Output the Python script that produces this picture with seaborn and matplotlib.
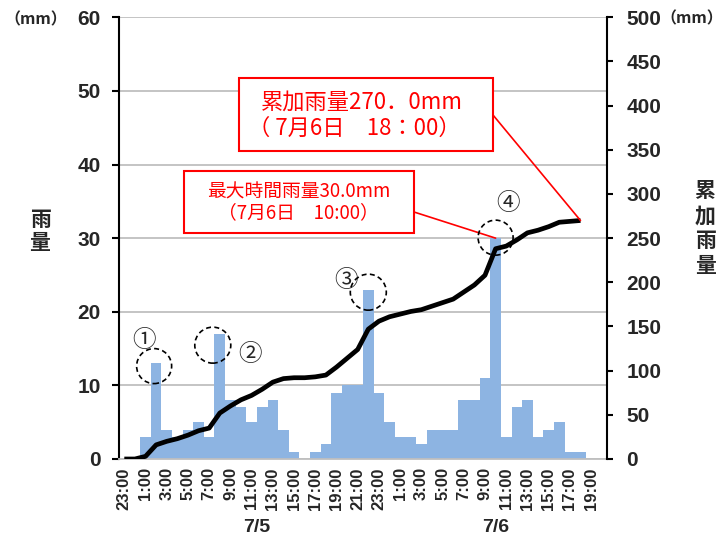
import numpy as np
import matplotlib
matplotlib.use("Agg")
import matplotlib.pyplot as plt
import matplotlib.transforms as mtransforms
from matplotlib.patches import Circle, Rectangle
import seaborn as sns

# ---------------- data ----------------
hours = ['23:00', '0:00', '1:00', '2:00', '3:00', '4:00', '5:00', '6:00', '7:00', '8:00',
         '9:00', '10:00', '11:00', '12:00', '13:00', '14:00', '15:00', '16:00', '17:00',
         '18:00', '19:00', '20:00', '21:00', '22:00', '23:00', '0:00', '1:00', '2:00',
         '3:00', '4:00', '5:00', '6:00', '7:00', '8:00', '9:00', '10:00', '11:00', '12:00',
         '13:00', '14:00', '15:00', '16:00', '17:00', '18:00', '19:00']
rain = [0, 0, 3, 13, 4, 3, 4, 5, 3, 17, 8, 7, 5, 7, 8, 4, 1, 0, 1, 2, 9, 10, 10, 23,
        9, 5, 3, 3, 2, 4, 4, 4, 8, 8, 11, 30, 3, 7, 8, 3, 4, 5, 1, 1, 0]
cumulative = [0, 0, 3, 16, 20, 23, 27, 32, 35, 52, 60, 67, 72, 79, 87, 91, 92, 92, 93, 95,
              104, 114, 124, 147, 156, 161, 164, 167, 169, 173, 177, 181, 189, 197, 208,
              238, 241, 248, 256, 259, 263, 268, 269, 270]
dates = ['7/5', '7/6']
date_centers = [12.5, 35.0]
peaks = [('①', 3), ('②', 9), ('③', 23), ('④', 35)]

sns.set_style('white')
CJK = ['Noto Sans CJK JP', 'DejaVu Sans']
LAT = ['Liberation Sans', 'DejaVu Sans']

W, H = 722, 542
fig = plt.figure(figsize=(W / 100, H / 100), dpi=100)
ax = fig.add_axes([119 / W, 1 - 459 / H, (607 - 119) / W, (459 - 17.3) / H])

def fp(x, y):
    return (x / W, 1 - y / H)

bar_color = '#8DB4E2'
sns.barplot(x=np.arange(len(rain)), y=rain, color=bar_color, saturation=1,
            width=1.0, linewidth=0, ax=ax, zorder=2)
ax.set_xlim(-0.5, 45.5)
ax.set_ylim(0, 60)
ax.set_yticks(np.arange(0, 61, 10))
ax.yaxis.grid(True, color='#BFBFBF', lw=1.3, zorder=0)
ax.set_axisbelow(True)
ax.set_xlabel('')
ax.set_ylabel('')

ax2 = ax.twinx()
sns.lineplot(x=np.arange(len(cumulative)), y=cumulative, color='black', lw=3.4,
             ax=ax2, solid_capstyle='butt')
ax2.set_ylim(0, 500)
ax2.set_yticks(np.arange(0, 501, 50))
ax2.set_ylabel('')
ax2.set_xlim(-0.5, 45.5)

for s in ['top', 'right']:
    ax.spines[s].set_visible(False)
for s in ['top', 'left', 'bottom']:
    ax2.spines[s].set_visible(False)
ax.spines['left'].set_color('black')
ax.spines['left'].set_linewidth(1.5)
ax.spines['bottom'].set_color('#BFBFBF')
ax.spines['bottom'].set_linewidth(1.3)
ax2.spines['right'].set_color('black')
ax2.spines['right'].set_linewidth(1.5)

ax.set_xticks(np.arange(0, len(hours), 2))
ax.set_xticklabels(hours[::2], rotation=90, fontsize=12, fontweight='bold',
                   family=['Liberation Sans Narrow', 'Liberation Sans', 'DejaVu Sans'])
ax.tick_params(axis='x', length=0, pad=6)
ax.tick_params(axis='y', direction='out', length=5, width=1.5, color='black', pad=8,
               labelsize=15, left=True)
ax2.tick_params(axis='y', direction='out', length=4, width=1.5, color='black', pad=10,
                labelsize=15, right=True)
for lbl in ax.get_yticklabels() + ax2.get_yticklabels():
    lbl.set_fontweight('bold')
    lbl.set_family(LAT)

for d, c in zip(dates, date_centers):
    ax.annotate(d, xy=(c, 0), xycoords=('data', 'axes fraction'), xytext=(0, -69),
                textcoords='offset pixels', ha='center', va='center', fontsize=14,
                fontweight='bold', family=LAT, annotation_clip=False)

# axis titles
fig.text(*fp(36, 19), '（mm）', ha='center', va='center', fontsize=11.5, fontweight='bold', family=CJK)
fig.text(*fp(692, 18), '（mm）', ha='center', va='center', fontsize=11.5, fontweight='bold', family=CJK)
fig.text(*fp(40, 231), '雨\n量', ha='center', va='center', fontsize=15, fontweight='bold',
         family=CJK, linespacing=1.15)
fig.text(*fp(705, 228), '累\n加\n雨\n量', ha='center', va='center', fontsize=15,
         fontweight='bold', family=CJK, linespacing=1.22)

# dashed circles and numbers around peaks
circ_off = {'①': (-2, -2.8, 17.5), '②': (-7, -11.3, 18), '③': (0, -2.5, 18), '④': (0, 0.5, 17.5)}
num_off = {'①': (-11.7, 23.2), '②': (29.8, -20.3), '③': (-22.6, 8.8), '④': (12.1, 34.7)}
for sym, idx in peaks:
    val = rain[idx]
    dx, dy, r = circ_off[sym]
    tr = mtransforms.Affine2D().translate(dx, dy) + mtransforms.ScaledTranslation(idx, val, ax.transData)
    c = Circle((0, 0), r, transform=tr, fill=False, ec='black', lw=1.2, ls=(0, (3, 2)), zorder=5)
    ax2.add_artist(c)
    ox, oy = num_off[sym]
    ax.annotate(sym, xy=(idx, val), xytext=(ox, oy), textcoords='offset pixels',
                ha='center', va='center', fontsize=17, family=CJK, annotation_clip=False)

# annotation boxes
red = '#FF0000'
b1 = Rectangle(fp(239, 151), (493 - 239) / W, (151 - 78) / H, transform=fig.transFigure,
               fc='white', ec=red, lw=1.5, zorder=10)
fig.add_artist(b1)
fig.text(*fp(362, 102), '累加雨量270．0mm', ha='center', va='center', fontsize=16,
         color=red, family=CJK, zorder=11)
fig.text(*fp(354, 128), '（ 7月6日　18：00）', ha='center', va='center', fontsize=16,
         color=red, family=CJK, zorder=11)
ax2.annotate('', xy=(43, cumulative[43]), xycoords='data', xytext=(493, H - 115),
             textcoords='figure pixels',
             arrowprops=dict(arrowstyle='-', color=red, lw=1.2, shrinkA=0, shrinkB=0),
             annotation_clip=False)

b2 = Rectangle(fp(184, 233), (414 - 184) / W, (233 - 171) / H, transform=fig.transFigure,
               fc='white', ec=red, lw=1.5, zorder=10)
fig.add_artist(b2)
fig.text(*fp(299, 192), '最大時間雨量30.0mm', ha='center', va='center', fontsize=13.5,
         color=red, family=CJK, zorder=11)
fig.text(*fp(298, 213), '（7月6日　10:00）', ha='center', va='center', fontsize=13.5,
         color=red, family=CJK, zorder=11)
ax2.annotate('', xy=(35, rain[35]), xycoords=ax.transData, xytext=(414, H - 212),
             textcoords='figure pixels',
             arrowprops=dict(arrowstyle='-', color=red, lw=1.2, shrinkA=0, shrinkB=0),
             annotation_clip=False)

fig.savefig('out.png', dpi=100)
